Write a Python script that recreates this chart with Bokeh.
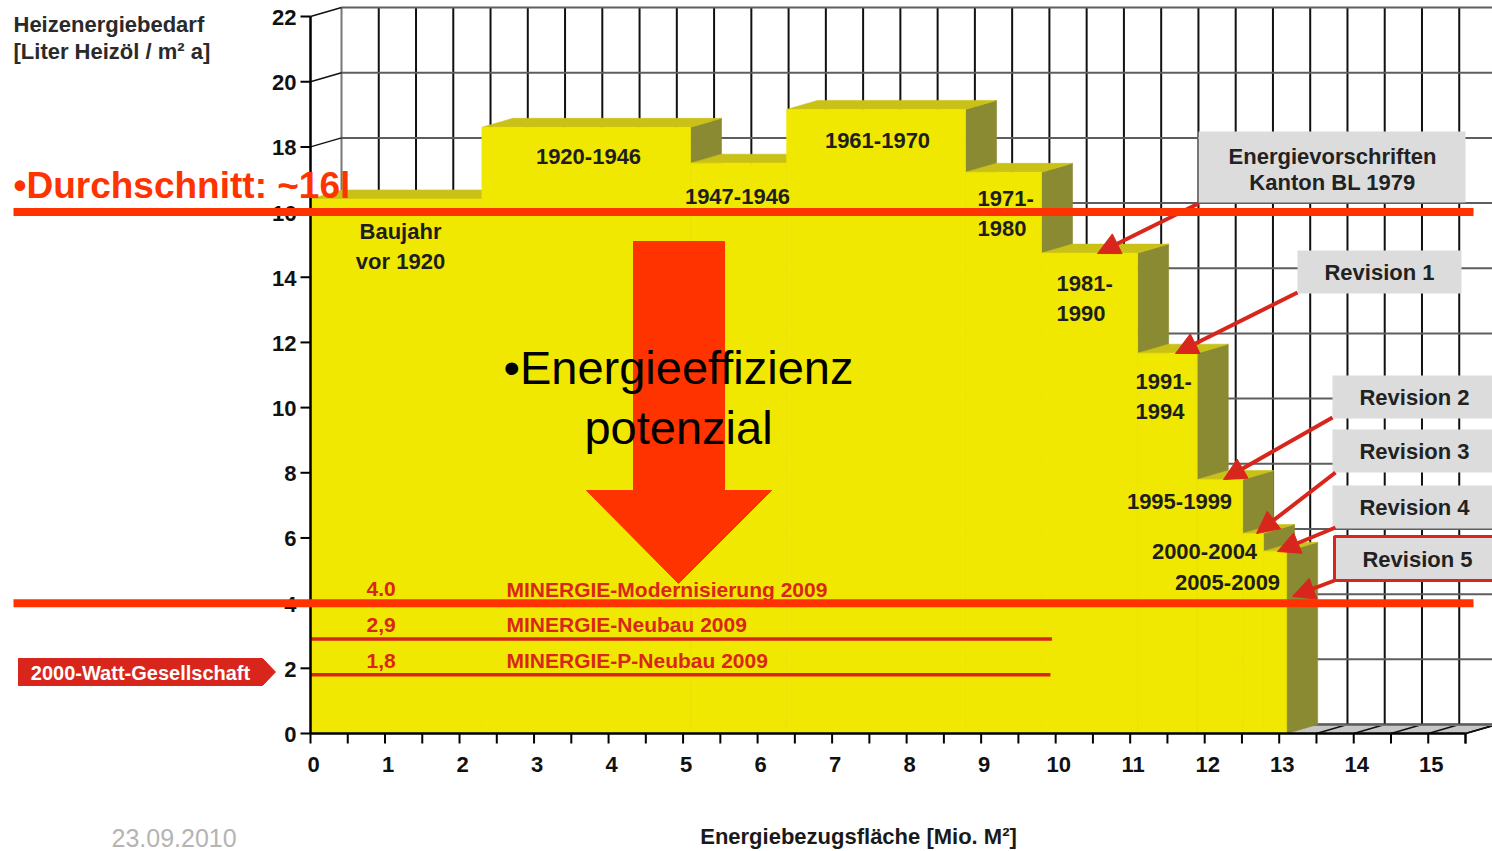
import math
from bokeh.plotting import figure
from bokeh.models import Range1d, Arrow, NormalHead
from bokeh.core.properties import value
from bokeh.embed import file_html
from bokeh.resources import INLINE

# ---------------- data ----------------
periods = ["Baujahr\nvor 1920", "1920-1946", "1947-1946", "1961-1970", "1971-\n1980",
           "1981-\n1990", "1991-\n1994", "1995-1999", "2000-2004", "2005-2009"]
# cumulative energy reference area (Mio. m2) at the right edge of each period
area_cumulative = [2.30, 5.10, 6.39, 8.79, 9.81, 11.10, 11.90, 12.51, 12.79, 13.10]
# heating energy demand (litre heating oil / m2 a)
heating_demand = [16.4, 18.6, 17.5, 19.15, 17.22, 14.74, 11.67, 7.79, 6.14, 5.59]

average_value = 16.0
average_label = "•Durchschnitt: ~16l"

minergie_values = [4.0, 2.9, 1.8]
minergie_value_labels = ["4.0", "2,9", "1,8"]
minergie_names = ["MINERGIE-Modernisierung 2009", "MINERGIE-Neubau 2009", "MINERGIE-P-Neubau 2009"]
minergie_line_end = [13.10, 9.95, 9.93]

callout_texts = ["Energievorschriften\nKanton BL 1979", "Revision 1", "Revision 2",
                 "Revision 3", "Revision 4", "Revision 5"]

y_tick_values = [0, 2, 4, 6, 8, 10, 12, 14, 16, 18, 20, 22]
y_tick_labels = ["0", "2", "4", "6", "8", "10", "12", "14", "16", "18", "20", "22"]
x_tick_values = [0, 1, 2, 3, 4, 5, 6, 7, 8, 9, 10, 11, 12, 13, 14, 15]
x_tick_labels = ["0", "1", "2", "3", "4", "5", "6", "7", "8", "9", "10", "11", "12", "13", "14", "15"]
x_minor_ticks = [v / 2 for v in range(32)]

y_title = ["Heizenergiebedarf", "[Liter Heizöl / m² a]"]
x_title = "Energiebezugsfläche [Mio. M²]"
big_text = ["•Energieeffizienz", "potenzial"]
tag_text = "2000-Watt-Gesellschaft"
date_text = "23.09.2010"

# ---------------- layout helpers (page pixels -> data) ----------------
W, H = 1492, 851
PAGE = 0
SX, SY = 74.516, 32.59
OX, OY = 310.0, 733.0


def X(px):
    return (px - OX) / SX


def Y(py):
    return (OY - py) / SY


DX, DY = 31 / SX, 9 / SY

FONT = value("Liberation Sans")
RED = "#d9261c"
ORANGE = "#ff3300"
INK = "#1e1e1e"
FRONT = "#f0e800"
TOP = "#c9c116"
SIDE = "#8a8a32"

p = figure(width=W, height=H,
           x_range=Range1d(X(PAGE), X(PAGE + W)), y_range=Range1d(Y(PAGE + H), Y(PAGE)),
           output_backend="svg", toolbar_location=None,
           x_axis_type=None, y_axis_type=None, min_border=0)
p.outline_line_color = None
p.background_fill_color = "white"
p.border_fill_color = "white"

xmax = 15.5

# ---------------- 3D box (floor, walls) ----------------
p.patch([0, xmax, xmax + DX, DX], [0, 0, DY, DY], fill_color="#c6c6c6", line_color="#8e8e8e", line_width=1)
floor_x = x_minor_ticks + [xmax]
p.segment(x0=floor_x, y0=[0] * len(floor_x), x1=[x + DX for x in floor_x], y1=[DY] * len(floor_x),
          line_color="#111111", line_width=1.6)
p.segment(x0=[DX], y0=[DY], x1=[xmax + DX], y1=[DY], line_color="#8e8e8e", line_width=3)

# back wall vertical grid
p.segment(x0=[x + DX for x in floor_x[1:]], y0=[DY] * (len(floor_x) - 1),
          x1=[x + DX for x in floor_x[1:]], y1=[22 + DY] * (len(floor_x) - 1),
          line_color="#111111", line_width=2)
p.segment(x0=[DX], y0=[DY], x1=[DX], y1=[22 + DY], line_color="#777777", line_width=2)
# back wall horizontal grid
p.segment(x0=[DX] * len(y_tick_values), y0=[v + DY for v in y_tick_values],
          x1=[xmax + DX] * len(y_tick_values), y1=[v + DY for v in y_tick_values],
          line_color="#5e5e5e", line_width=2)
# left wall diagonals
p.segment(x0=[0] * len(y_tick_values), y0=y_tick_values,
          x1=[DX] * len(y_tick_values), y1=[v + DY for v in y_tick_values],
          line_color="#111111", line_width=1.5)

# ---------------- stepped 3D bars ----------------
edges = [0.0] + area_cumulative
xs, ys, cols = [], [], []
for i, h in enumerate(heating_demand):
    x0, x1 = edges[i], edges[i + 1]
    xs += [[x1, x1 + DX, x1 + DX, x1], [x0, x1, x1 + DX, x0 + DX], [x0, x1, x1, x0]]
    ys += [[0, DY, h + DY, h], [h, h, h + DY, h + DY], [0, 0, h, h]]
    cols += [SIDE, TOP, FRONT]
p.patches(xs, ys, fill_color=cols, line_color=cols, line_width=0.6)

# ---------------- MINERGIE levels ----------------
p.segment(x0=[0] * 3, y0=minergie_values, x1=minergie_line_end, y1=minergie_values,
          line_color=RED, line_width=3.5)

# big arrow
arrow_px = [(633, 241), (724, 241), (724, 490), (771, 490), (678, 583), (586, 490), (633, 490)]
p.patch([X(a) for a, b in arrow_px], [Y(b) for a, b in arrow_px], fill_color=ORANGE, line_color=ORANGE)

p.text(x=[X(366)] * 3, y=minergie_values, text=minergie_value_labels, y_offset=-14,
       text_align="left", text_baseline="middle", text_font=FONT, text_font_style="bold",
       text_font_size="21px", text_color=RED)
p.text(x=[X(506)] * 3, y=minergie_values, text=minergie_names, y_offset=-14,
       text_align="left", text_baseline="middle", text_font=FONT, text_font_style="bold",
       text_font_size="21px", text_color=RED)

# period labels
label_anchor = [(400, 231, "center"), (588, 156, "center"), (737, 196, "center"), (877, 140, "center"),
                (977, 198, "left"), (1056, 283, "left"), (1135, 381, "left"),
                (1179, 501, "center"), (1204, 551, "center"), (1227, 582, "center")]
LINE = 30
groups = {"center": ([], [], []), "left": ([], [], [])}
for name, (ax, ay, al) in zip(periods, label_anchor):
    for k, line in enumerate(name.split("\n")):
        g = groups[al]
        g[0].append(X(ax))
        g[1].append(Y(ay + k * LINE))
        g[2].append(line)
for al, (gx, gy, gt) in groups.items():
    p.text(x=gx, y=gy, text=gt, text_align=al, text_baseline="middle", text_font=FONT,
           text_font_style="bold", text_font_size="22px", text_color=INK)

# big text
p.text(x=[X(678), X(678)], y=[Y(367), Y(427)], text=big_text, text_align="center",
       text_baseline="middle", text_font=FONT, text_font_size="47px", text_color="black")

# ---------------- axes ----------------
p.segment(x0=[0], y0=[0], x1=[0], y1=[22], line_color="black", line_width=2.5)
p.segment(x0=[0], y0=[0], x1=[xmax], y1=[0], line_color="black", line_width=2.5)
p.segment(x0=[X(300)] * len(y_tick_values), y0=y_tick_values, x1=[0] * len(y_tick_values),
          y1=y_tick_values, line_color="black", line_width=2)
p.segment(x0=floor_x, y0=[0] * len(floor_x), x1=floor_x, y1=[Y(743)] * len(floor_x),
          line_color="black", line_width=2)
p.text(x=[X(296)] * len(y_tick_values), y=y_tick_values, text=y_tick_labels, y_offset=1,
       text_align="right", text_baseline="middle", text_font=FONT, text_font_style="bold",
       text_font_size="22px", text_color="#111111")
p.text(x=x_tick_values, y=[Y(764)] * len(x_tick_values), text=x_tick_labels, x_offset=3,
       text_align="center", text_baseline="middle", text_font=FONT, text_font_style="bold",
       text_font_size="22px", text_color="#111111")

# titles
p.text(x=[X(13), X(13)], y=[Y(24), Y(51)], text=y_title, text_align="left", text_baseline="middle",
       text_font=FONT, text_font_style="bold", text_font_size="22px", text_color="#2a2a2a")
p.text(x=[X(858)], y=[Y(836)], text=[x_title], text_align="center", text_baseline="middle",
       text_font=FONT, text_font_style="bold", text_font_size="22px", text_color="#1a1a1a")
p.text(x=[X(111)], y=[Y(837)], text=[date_text], text_align="left", text_baseline="middle",
       text_font=FONT, text_font_size="25px", text_color="#b4b4b4")
p.text(x=[X(13)], y=[Y(185)], text=[average_label], text_align="left", text_baseline="middle",
       text_font=FONT, text_font_style="bold", text_font_size="37px", text_color=ORANGE)

# 2000-Watt tag
tag_px = [(18, 658), (262, 658), (275, 671.5), (262, 685), (18, 685)]
p.patch([X(a) for a, b in tag_px], [Y(b) for a, b in tag_px], fill_color=RED, line_color=RED)
p.text(x=[X(140)], y=[Y(672)], text=[tag_text], text_align="center", text_baseline="middle",
       text_font=FONT, text_font_style="bold", text_font_size="20px", text_color="white")

# ---------------- callouts ----------------
box_px = [(1198, 1465, 131, 202), (1297, 1461, 250, 293), (1332, 1500, 375, 418),
          (1332, 1500, 429, 472), (1332, 1500, 485, 528), (1334, 1500, 536, 580)]
p.quad(left=[X(b[0]) for b in box_px], right=[X(b[1]) for b in box_px],
       top=[Y(b[2]) for b in box_px], bottom=[Y(b[3]) for b in box_px],
       fill_color="#dcdcdc", line_color=RED, line_alpha=[0, 0, 0, 0, 0, 1], line_width=3)
text_centers = [[(1332, 156), (1332, 182)], [(1379, 272)], [(1414, 397)], [(1414, 451)],
                [(1414, 507)], [(1417, 559)]]
cx, cy, ct = [], [], []
for txt, centers in zip(callout_texts, text_centers):
    for line, (tx, ty) in zip(txt.split("\n"), centers):
        cx.append(X(tx))
        cy.append(Y(ty))
        ct.append(line)
p.text(x=cx, y=cy, text=ct, text_align="center", text_baseline="middle", text_font=FONT,
       text_font_style="bold", text_font_size="22px", text_color="#222222")

arrow_start_px = [(1198, 203), (1297, 292), (1332, 417), (1335, 472), (1335, 527), (1334, 580)]
arrow_tip_px = [(1097, 253), (1175, 353), (1223, 479), (1256, 533), (1277, 551), (1292, 596)]
for (sx, sy), (ex, ey) in zip(arrow_start_px, arrow_tip_px):
    p.add_layout(Arrow(end=NormalHead(size=22, fill_color=RED, line_color=RED, line_width=1),
                       x_start=X(sx), y_start=Y(sy), x_end=X(ex), y_end=Y(ey),
                       line_color=RED, line_width=4))

# thick orange reference lines (drawn on top)
for yv in [average_value, minergie_values[0]]:
    p.add_layout(Arrow(end=None, start=None, x_start=X(13), y_start=yv, x_end=X(1473), y_end=yv,
                       line_color=ORANGE, line_width=8))

open("out.html", "w").write(file_html(p, INLINE))
